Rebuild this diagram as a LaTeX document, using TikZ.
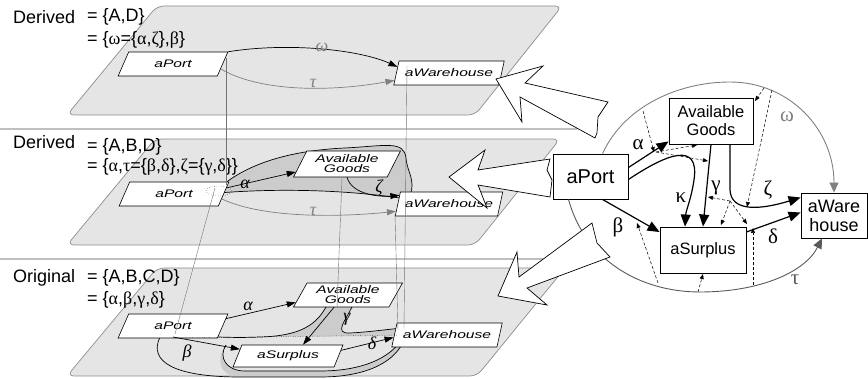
\documentclass[tikz,border=0pt]{standalone}
\usepackage{fontspec}
\setmainfont{Liberation Sans}
\newfontfamily\grkfont{Liberation Serif}
\usetikzlibrary{shapes.geometric,arrows.meta,calc}

\definecolor{planefill}{gray}{0.9}
\definecolor{planeline}{gray}{0.55}
\definecolor{sepline}{gray}{0.75}
\definecolor{blobfill}{gray}{0.8}
\definecolor{arcgray}{gray}{0.5}
\definecolor{projline}{gray}{0.45}

\newcommand{\wtxt}[1]{\scalebox{1.42}[1]{#1}}
\newcommand{\gk}[1]{{\grkfont #1}}

\pgfdeclarelayer{bg}
\pgfsetlayers{bg,main}

\tikzset{
  plane/.style={fill=planefill, draw=planeline, line width=0.7pt, rounded corners=7pt},
  sepbar/.style={draw=sepline, line width=2.2pt},
  lnode/.style={trapezium, trapezium left angle=60, trapezium right angle=120,
    trapezium stretches=true, draw, fill=white, line width=0.6pt, inner sep=0pt,
    minimum height=24pt, minimum width=110pt, align=center,
    font=\fontsize{11}{10}\selectfont\itshape},
  rnode/.style={draw, fill=white, line width=0.9pt, inner sep=0pt, align=center},
  ledge/.style={line width=0.7pt, -{Triangle[length=9pt,width=6pt]}},
  redge/.style={line width=1.2pt, -{Triangle[length=12pt,width=10pt]}},
  cut/.style={dash pattern=on 3pt off 2pt, line width=0.5pt, -{Triangle[length=5pt,width=4pt]}},
  proj/.style={draw=projline, line width=0.4pt},
  blobline/.style={line width=0.7pt},
  bigarrow/.style={draw, fill=white, line width=0.7pt, line join=miter},
  hdr/.style={anchor=west, inner sep=0pt, font=\fontsize{18}{18}\selectfont},
  glabel/.style={inner sep=0pt, font=\fontsize{21}{21}\selectfont\grkfont},
  llabel/.style={inner sep=0pt, font=\fontsize{18}{18}\selectfont\grkfont\itshape},
}

\begin{document}
\begin{tikzpicture}[x=1pt,y=-1pt]
  \useasboundingbox (0,0) rectangle (868,379);

  % planes and separators
  \begin{pgfonlayer}{bg}
    \draw[plane] (157,6) -- (562,6) -- (475,115) -- (67,115) -- cycle;
    \draw[plane] (155,139) -- (560,139) -- (475,245) -- (67,245) -- cycle;
    \draw[plane] (157,268) -- (565,268) -- (477,376) -- (67,376) -- cycle;
    \draw[sepbar] (0,129) -- (577,129);
    \draw[sepbar] (0,259) -- (577,259);

    % derived region in the middle layer
    \fill[blobfill] (218,189) .. controls (250,160) and (300,150) .. (345,148)
      .. controls (385,146) and (404,140) .. (406,158)
      .. controls (407,172) and (416,180) .. (410,196) -- (406,199)
      .. controls (350,190) and (280,188) .. (218,193) -- cycle;
    \draw[blobline] (218,189) .. controls (250,160) and (300,150) .. (345,148)
      .. controls (385,146) and (404,140) .. (406,158)
      .. controls (407,172) and (416,180) .. (410,196);
    \draw[blobline] (218,193) .. controls (280,188) and (350,190) .. (406,199);

    % regions in the original layer
    \fill[blobfill] (226,345) .. controls (214,362) and (222,377) .. (240,377) -- (320,377)
      .. controls (370,377) and (396,360) .. (404,340) -- (400,342)
      .. controls (385,362) and (355,371) .. (320,371) -- (245,371)
      .. controls (226,371) and (218,357) .. (226,345) -- cycle;
    \draw[blobline] (160,337) .. controls (148,362) and (175,377) .. (240,377) -- (320,377)
      .. controls (370,377) and (396,360) .. (404,340);
    \draw[blobline] (400,342) .. controls (385,362) and (355,371) .. (320,371) -- (245,371)
      .. controls (226,371) and (218,357) .. (226,345);
    \fill[blobfill] (326,307) .. controls (316,325) and (300,336) .. (260,337)
      -- (403,336) -- (403,328) .. controls (390,329) and (370,332) .. (350,333)
      .. controls (333,334) and (346,320) .. (352,307) -- cycle;
    \draw[blobline] (326,307) .. controls (316,325) and (300,336) .. (260,337)
      .. controls (235,338) and (225,337) .. (215,337);
    \draw[blobline] (352,307) .. controls (346,320) and (333,334) .. (350,333)
      .. controls (370,332) and (390,329) .. (403,328);
  \end{pgfonlayer}

  % headers
  \node[hdr] (d1) at (13,17) {Derived};
  \node[hdr] (d1a) at (87,17) {= \{A,D\}};
  \node[hdr] (d1b) at (87,40) {= \{\gk{ω}=\{\gk{α},\gk{ζ}\},\gk{β}\}};
  \node[hdr] (d2) at (13,142) {Derived};
  \node[hdr] (d2a) at (87,147) {= \{A,B,D\}};
  \node[hdr] (d2b) at (87,167) {= \{\gk{α},\gk{τ}=\{\gk{β},\gk{δ}\},\gk{ζ}=\{\gk{γ},\gk{δ}\}\}};
  \node[hdr] (o3) at (13,278) {Original};
  \node[hdr] (o3a) at (87,278) {= \{A,B,C,D\}};
  \node[hdr] (o3b) at (87,300) {= \{\gk{α},\gk{β},\gk{γ},\gk{δ}\}};

  % layer nodes
  \node[lnode] (ap1) at (173,64) {\wtxt{aPort}};
  \node[lnode, minimum width=111pt] (aw1) at (449,73) {\wtxt{aWarehouse}};
  \node[lnode] (ap2) at (174,194) {\wtxt{aPort}};
  \node[lnode, minimum width=107pt, minimum height=26pt] (ag2) at (347,164) {\wtxt{Available}\\\wtxt{Goods}};
  \node[lnode, minimum width=108pt] (aw2) at (449,204) {\wtxt{aWarehouse}};
  \node[lnode] (ap3) at (173,326) {\wtxt{aPort}};
  \node[lnode, minimum width=109pt] (ag3) at (348,295) {\wtxt{Available}\\\wtxt{Goods}};
  \node[lnode, minimum height=22pt] (as3) at (288,356) {\wtxt{aSurplus}};
  \node[lnode, minimum width=111pt] (aw3) at (447,335) {\wtxt{aWarehouse}};

  % projections between layers
  \foreach \xa/\ya/\xb/\yb in {226/58/226/185, 407/66/404/328, 395/214/398/330,
                              215/188/175/334, 342/178/337/307} {
    \draw[proj] (\xa,\ya) -- (\xb,\yb);
  }
  \draw[dotted] (219,191) ellipse (13pt and 5pt);
  \draw[dotted] (178,338) -- (402,335);

  % derived layer A,D
  \draw[ledge] (ap1.top right corner) .. controls (290,42) and (360,50)
    .. ($(aw1.top left corner)!0.25!(aw1.bottom left corner)$);
  \draw[ledge, arcgray] ($(ap1.top right corner)!0.7!(ap1.bottom right corner)$)
    .. controls (260,92) and (330,92) .. ($(aw1.top left corner)!0.8!(aw1.bottom left corner)$);
  \node[llabel, arcgray] (w1) at (322,47) {ω};
  \node[llabel, arcgray] (t1) at (313,83) {τ};

  % derived layer A,B,D
  \draw[ledge] ($(ap2.top right corner)!0.25!(ap2.bottom right corner)$)
    -- ($(ag2.bottom left corner)!0.2!(ag2.top left corner)$);
  \draw[ledge] (ag2.south) .. controls (352,195) and (380,197) .. ($(aw2.top left corner)!0.15!(aw2.bottom left corner)$);
  \draw[ledge, arcgray] ($(ap2.top right corner)!0.7!(ap2.bottom right corner)$)
    .. controls (260,217) and (330,218) .. ($(aw2.top left corner)!0.8!(aw2.bottom left corner)$);
  \node[llabel] (a2) at (245,184) {α};
  \node[llabel] (z2) at (379,188) {ζ};
  \node[llabel, arcgray] (t2) at (313,211) {τ};

  % original layer
  \draw[ledge] ($(ap3.top right corner)!0.2!(ap3.bottom right corner)$)
    -- ($(ag3.bottom left corner)!0.2!(ag3.top left corner)$);
  \draw[ledge] (173,337) -- ($(as3.top left corner)!0.2!(as3.bottom left corner)$);
  \draw[ledge] ([xshift=-14pt]ag3.south) -- ([xshift=15pt]as3.north);
  \draw[ledge] ($(as3.top right corner)!0.25!(as3.bottom right corner)$)
    -- ($(aw3.top left corner)!0.6!(aw3.bottom left corner)$);
  \node[llabel] (a3) at (248,306) {α};
  \node[llabel] (b3) at (187,353) {β};
  \node[llabel] (g3) at (347,319) {γ};
  \node[llabel] (e3) at (372,343) {δ};

  % right graph
  \node[rnode, minimum width=75pt, minimum height=45pt, font=\fontsize{20}{20}\selectfont] (rp) at (590.5,176.5) {aPort};
  \node[rnode, minimum width=84pt, minimum height=46pt, font=\fontsize{16.5}{18}\selectfont] (rag) at (711,121) {Available\\Goods};
  \node[rnode, minimum width=86pt, minimum height=46pt, font=\fontsize{16.5}{18}\selectfont] (rs) at (703,250) {aSurplus};
  \node[rnode, minimum width=66pt, minimum height=45pt, font=\fontsize{18}{19}\selectfont] (rw) at (834,215.5) {aWare\\house};

  \draw[arcgray, line width=0.9pt, -{Triangle[length=10pt,width=9pt]}] ([xshift=12pt]rp.north)
    .. controls (625,105) and (680,82) .. (730,82) .. controls (790,82) and (834,130) .. (rw.north);
  \draw[black!65, line width=0.9pt, -{Triangle[length=10pt,width=9pt]}] ([xshift=-22pt]rp.south)
    .. controls (585,260) and (640,292) .. (700,292) .. controls (760,292) and (805,272) .. ([xshift=-12pt]rw.south);

  \foreach \xa/\ya/\xb/\yb in {643/111/654/152, 656/152/697/145, 656/152/708/161,
                              772/90/747/207, 764/88/755/101, 730/201/708/197,
                              730/201/721/225, 730/201/747/224, 658/283/637/223,
                              698/292/703/274, 753/285/753/228} {
    \draw[cut] (\xa,\ya) -- (\xb,\yb);
  }

  \draw[redge] ([yshift=9pt]rp.east) -- ([yshift=3pt]rag.south west);
  \draw[redge] ([yshift=-3pt]rp.east) .. controls (665,155) and (700,140) .. (694,180)
    .. controls (691,200) and (686,210) .. ([xshift=-18pt]rs.north);
  \draw[redge] (rag.south) -- (rs.north);
  \draw[redge] ([xshift=19pt]rag.south) -- (730,190) .. controls (731,212) and (760,210) .. ([yshift=18pt]rw.west);
  \draw[redge] ([xshift=12pt]rp.south) -- ([yshift=18pt]rs.west);
  \draw[redge] ([yshift=18pt]rs.east) -- ([yshift=3pt]rw.west);

  \node[glabel] (ra) at (638,145) {α};
  \node[glabel] (rk) at (681,198) {κ};
  \node[glabel] (rg) at (716,188) {γ};
  \node[glabel] (rz) at (768,190) {ζ};
  \node[glabel] (rb) at (618,227) {β};
  \node[glabel] (rd) at (773,236) {δ};
  \node[glabel, arcgray] (rw2) at (787,117) {ω};
  \node[glabel, black!65] (rt) at (795,280) {τ};

  % abstraction arrows
  \draw[bigarrow] (496,79) -- (543,66) -- (525,83) -- (608,102) -- (598,117) -- (597,133)
    -- (595,138) -- (520,97) -- (522,122) -- cycle;
  \draw[bigarrow] (449,177) -- (485,150) -- (478,170) -- (550,159) -- (547,170) -- (552,180)
    -- (550,197) -- (478,185) -- (487,208) -- cycle;
  \draw[bigarrow] (498,296) -- (517,252) -- (519,277) -- (592,223) -- (597,243) -- (610,257)
    -- (527,288) -- (547,305) -- cycle;
\end{tikzpicture}
\end{document}
